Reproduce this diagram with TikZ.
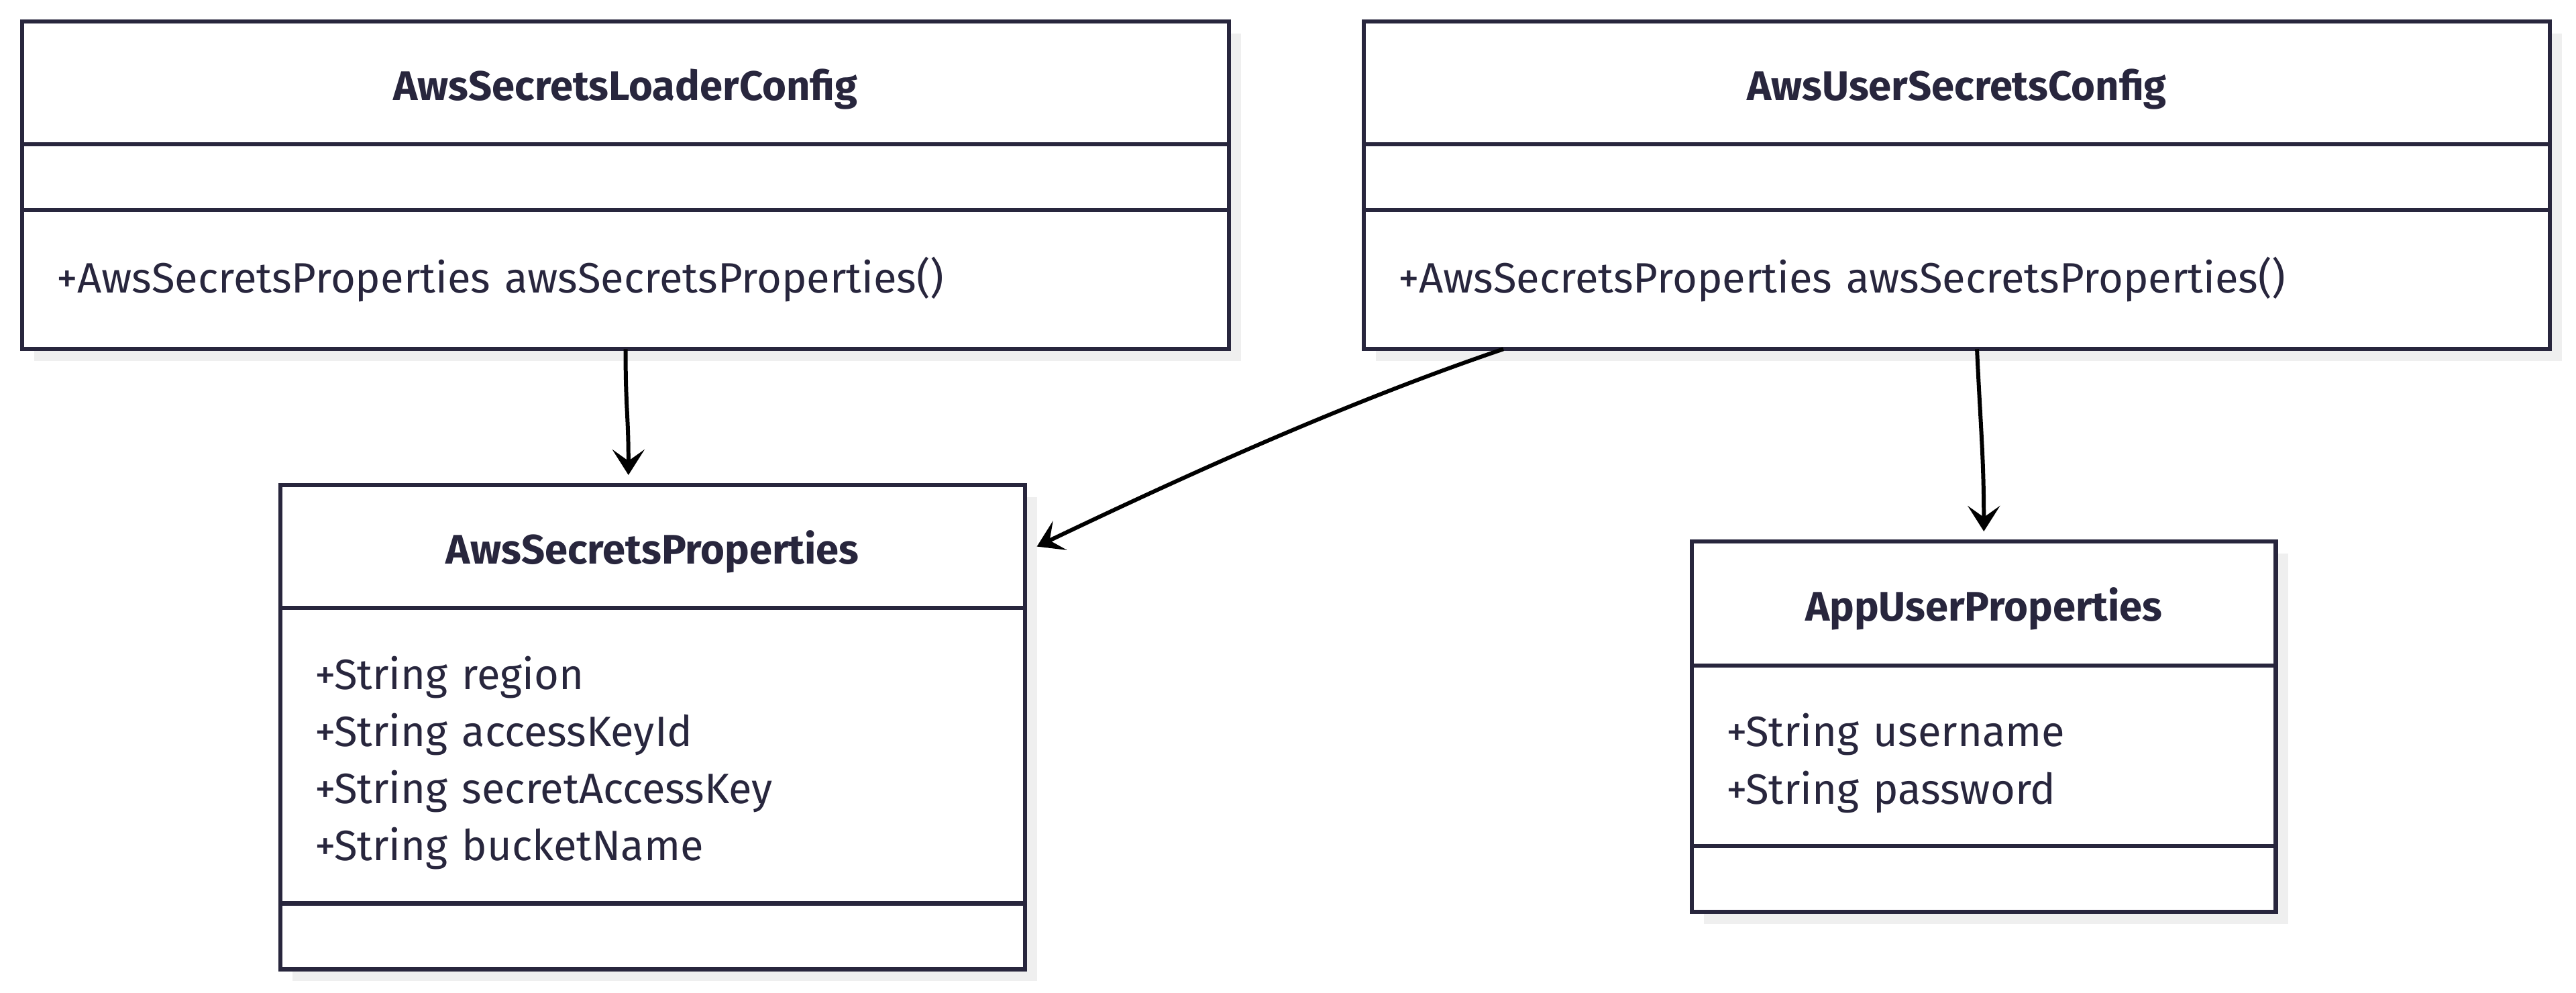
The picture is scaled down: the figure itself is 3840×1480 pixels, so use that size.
\documentclass[tikz,border=0pt]{standalone}
\usepackage{fontspec}
\setmainfont{Fira Sans}
\usetikzlibrary{positioning,arrows.meta,shadows}
\definecolor{umlink}{HTML}{28263D}
\definecolor{umlshade}{HTML}{EFEFEF}

\tikzset{
  classbox/.style={draw=umlink, fill=white, line width=1.8pt, inner xsep=0.51cm, inner ysep=0pt,
    outer sep=0pt, text=umlink, align=left, font=\fontsize{18}{24.2}\selectfont,
    drop shadow={shadow xshift=0.18cm, shadow yshift=-0.18cm, fill=umlshade, opacity=1}},
  classname/.style={classbox, align=center, font=\bfseries\fontsize{17.5}{24.2}\selectfont,
    text height=0.51cm, text depth=0pt, minimum height=1.83cm},
  dep/.style={-{Stealth[length=0.38cm,width=0.48cm,inset=0.17cm]}, line width=1.7pt, black},
}

\begin{document}
\begin{tikzpicture}[x=0.01cm, y=-0.01cm]
\useasboundingbox (0,0) rectangle (3840,1480);
%\draw[help lines, step=100] (0,0) grid (3840,1480);
% AwsSecretsLoaderConfig
\node[classname, text width=16.96cm, anchor=north west] (loaderHead) at (33,32) {AwsSecretsLoaderConfig};
\node[classbox, text width=16.96cm, minimum height=0.98cm, below=0pt of loaderHead] (loaderAttr) {};
\node[classbox, text width=16.96cm, minimum height=2.07cm, below=0pt of loaderAttr] (loaderOps) {+AwsSecretsProperties awsSecretsProperties()};
% AwsUserSecretsConfig
\node[classname, text width=16.65cm, anchor=north west] (userHead) at (2033,32) {AwsUserSecretsConfig};
\node[classbox, text width=16.65cm, minimum height=0.98cm, below=0pt of userHead] (userAttr) {};
\node[classbox, text width=16.65cm, minimum height=2.07cm, below=0pt of userAttr] (userOps) {+AwsSecretsProperties awsSecretsProperties()};
% AwsSecretsProperties
\node[classname, text width=10.07cm, anchor=north west] (propsHead) at (418,723) {AwsSecretsProperties};
\node[classbox, text width=10.07cm, minimum height=4.40cm, below=0pt of propsHead] (propsAttr) {\\[-0.14cm]+String region\\+String accessKeyId\\+String secretAccessKey\\+String bucketName};
\node[classbox, text width=10.07cm, minimum height=0.98cm, below=0pt of propsAttr] (propsOps) {};
% AppUserProperties
\node[classname, text width=7.68cm, minimum height=1.85cm, anchor=north west] (appHead) at (2522,807) {AppUserProperties};
\node[classbox, text width=7.68cm, minimum height=2.69cm, below=0pt of appHead] (appAttr) {\\[-0.14cm]+String username\\+String password};
\node[classbox, text width=7.68cm, minimum height=0.98cm, below=0pt of appAttr] (appOps) {};

\draw[dep] (loaderOps.south) .. controls +(0,90) and +(0,-90) .. ([xshift=-0.36cm, yshift=0.15cm]propsHead.north);
\draw[dep] ([xshift=2.08cm]userOps.south west) .. controls +(-230,78) and +(230,-110) .. ([xshift=0.18cm]propsHead.east);
\draw[dep] ([xshift=0.3cm]userOps.south) .. controls +(5,110) and +(0,-110) .. ([yshift=0.15cm]appHead.north);
\end{tikzpicture}
\end{document}
